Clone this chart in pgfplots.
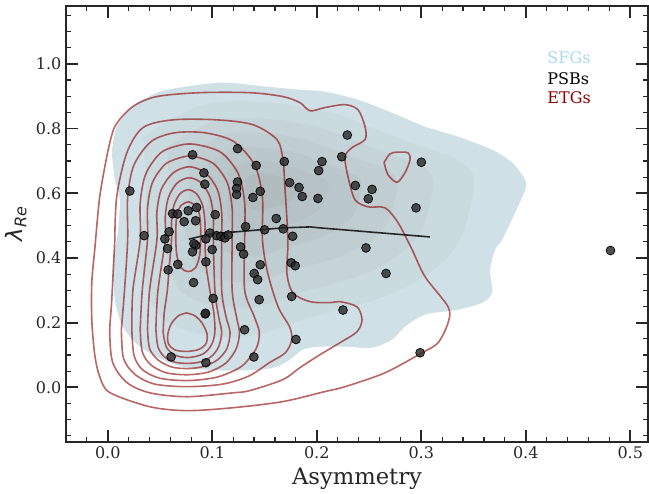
\documentclass[border=0pt]{standalone}
\usepackage{fontspec}
\setmainfont{DejaVu Serif}
\newfontfamily\dvsans{DejaVu Sans}
\usepackage{pgfplots}
\pgfplotsset{compat=1.18}
\definecolor{sfgtext}{HTML}{ADD8E6}
\definecolor{etg}{HTML}{8B0000}
\definecolor{ax}{HTML}{262626}
\definecolor{sfgA}{HTML}{CFE1E7}
\definecolor{sfgB}{HTML}{CADBE0}
\definecolor{sfgC}{HTML}{C5D4D9}
\definecolor{sfgD}{HTML}{C0CED2}
\definecolor{sfgE}{HTML}{BBC8CB}
\definecolor{sfgF}{HTML}{B6C2C5}
\definecolor{sfgG}{HTML}{B1BCBF}
\begin{document}
\begin{tikzpicture}
\begin{axis}[
  width=436.5pt, height=327pt, scale only axis,
  xmin=-0.04, xmax=0.517, ymin=-0.169, ymax=1.179,
  xtick={0,0.1,0.2,0.3,0.4,0.5},
  ytick={0,0.2,0.4,0.6,0.8,1.0},
  minor xtick={-0.02,0.02,0.04,0.06,0.08,0.12,0.14,0.16,0.18,0.22,0.24,0.26,0.28,0.32,0.34,0.36,0.38,0.42,0.44,0.46,0.48},
  minor ytick={-0.15,-0.1,-0.05,0.05,0.1,0.15,0.25,0.3,0.35,0.45,0.5,0.55,0.65,0.7,0.75,0.85,0.9,0.95,1.05,1.1,1.15},
  tick align=inside,
  major tick length=9pt, minor tick length=3.75pt,
  major tick style={ax, line width=1.3pt},
  minor tick style={ax, line width=0.9pt},
  axis line style={ax, line width=1.4pt},
  tick label style={font=\fontsize{12}{14}\selectfont, text=ax},
  /pgf/number format/.cd, fixed, fixed zerofill, precision=1, assume math mode=true,
  /pgfplots/.cd,
  xlabel={Asymmetry},
  xlabel style={font=\fontsize{17}{20}\selectfont, text=ax},
  ylabel={{\dvsans\itshape λ\raisebox{-0.35ex}{\fontsize{12}{13}\selectfont Re}}},
  ylabel style={font=\fontsize{17}{20}\selectfont, text=ax},
  clip=true,
]
% ---------------- SFG filled density levels ----------------
\addplot[draw=none, fill=sfgA, smooth, tension=0.5] coordinates {
(0.0038,0.7255) (0.0086,0.8059) (0.0239,0.8677) (0.0498,0.9141) (0.0881,0.9357) (0.1140,0.9419) (0.1523,0.9295) (0.1839,0.9202) (0.2079,0.9141) (0.2395,0.8893) (0.2720,0.8491) (0.3036,0.8059) (0.3352,0.7750) (0.3678,0.7348) (0.3870,0.6946) (0.3994,0.6420) (0.3994,0.6111) (0.3898,0.5400) (0.3774,0.4566) (0.3707,0.4257) (0.3659,0.3638) (0.3678,0.2927) (0.3582,0.2618) (0.3352,0.2402) (0.3036,0.2247) (0.2845,0.1876) (0.2720,0.1474) (0.2529,0.1227) (0.2289,0.1258) (0.2031,0.1258) (0.1868,0.1165) (0.1743,0.0856) (0.1619,0.0640) (0.1456,0.0547) (0.1169,0.0516) (0.0929,0.0547) (0.0757,0.0609) (0.0565,0.0794) (0.0307,0.1258) (0.0144,0.1876) (0.0067,0.2711) (0.0048,0.3731) (0.0067,0.4257) (0.0096,0.4782) (0.0115,0.5802) (0.0067,0.6420) (0.0038,0.7255)};
\addplot[draw=none, fill=sfgB, smooth, tension=0.6] coordinates {
(0.0341,0.7725) (0.0992,0.8789) (0.1975,0.8612) (0.2760,0.7724) (0.3443,0.6812) (0.3466,0.5544) (0.3270,0.4099) (0.2760,0.2959) (0.1935,0.2148) (0.1229,0.1539) (0.0522,0.2148) (0.0309,0.4175) (0.0364,0.5874) (0.0341,0.7725)};
\addplot[draw=none, fill=sfgC, smooth, tension=0.6] coordinates {
(0.0567,0.7428) (0.1091,0.8284) (0.1882,0.8141) (0.2514,0.7427) (0.3064,0.6692) (0.3083,0.5672) (0.2925,0.4509) (0.2514,0.3591) (0.1850,0.2938) (0.1282,0.2449) (0.0713,0.2938) (0.0542,0.4570) (0.0586,0.5937) (0.0567,0.7428)};
\addplot[draw=none, fill=sfgD, smooth, tension=0.6] coordinates {
(0.0765,0.7167) (0.1178,0.7842) (0.1801,0.7729) (0.2299,0.7167) (0.2732,0.6588) (0.2747,0.5784) (0.2623,0.4868) (0.2299,0.4144) (0.1776,0.3630) (0.1328,0.3244) (0.0880,0.3630) (0.0745,0.4916) (0.0780,0.5993) (0.0765,0.7167)};
\addplot[draw=none, fill=sfgE, smooth, tension=0.6] coordinates {
(0.0963,0.6907) (0.1265,0.7400) (0.1720,0.7318) (0.2084,0.6906) (0.2401,0.6483) (0.2411,0.5896) (0.2320,0.5226) (0.2084,0.4698) (0.1702,0.4322) (0.1374,0.4040) (0.1047,0.4322) (0.0948,0.5262) (0.0974,0.6049) (0.0963,0.6907)};
\addplot[draw=none, fill=sfgF, smooth, tension=0.6] coordinates {
(0.1146,0.6665) (0.1345,0.6989) (0.1645,0.6935) (0.1884,0.6665) (0.2093,0.6387) (0.2100,0.6000) (0.2040,0.5559) (0.1884,0.5212) (0.1633,0.4964) (0.1417,0.4779) (0.1202,0.4964) (0.1137,0.5583) (0.1154,0.6100) (0.1146,0.6665)};
\addplot[draw=none, fill=sfgG, smooth, tension=0.6] coordinates {
(0.1316,0.6442) (0.1420,0.6610) (0.1575,0.6582) (0.1700,0.6442) (0.1808,0.6297) (0.1812,0.6096) (0.1781,0.5867) (0.1700,0.5686) (0.1569,0.5558) (0.1457,0.5461) (0.1345,0.5558) (0.1311,0.5879) (0.1320,0.6148) (0.1316,0.6442)};
% ---------------- ETG contour lines ----------------
\pgfplotsset{etgline/.style={draw=etg, draw opacity=0.6, line width=1.2pt, smooth, tension=0.5, no marks}}
\addplot[etgline] coordinates {
(-0.0010,0.713) (0.0067,0.806) (0.0239,0.868) (0.0469,0.899) (0.0881,0.911) (0.1360,0.911) (0.1676,0.899) (0.1839,0.880) (0.1935,0.855) (0.2079,0.865) (0.2270,0.874) (0.2395,0.858) (0.2462,0.806) (0.2462,0.766) (0.2337,0.741) (0.2270,0.713) (0.2299,0.651) (0.2366,0.580) (0.2490,0.558) (0.2653,0.555) (0.2778,0.509) (0.2912,0.426) (0.3036,0.342) (0.3257,0.249) (0.3257,0.200) (0.3161,0.138) (0.3008,0.107) (0.2653,0.045) (0.2270,0.002) (0.2079,-0.013) (0.1676,-0.044) (0.1197,-0.063) (0.0757,-0.072) (0.0402,-0.060) (0.0019,-0.016) (-0.0077,0.033) (-0.0125,0.101) (-0.0153,0.209) (-0.0153,0.324) (-0.0125,0.426) (-0.0077,0.590) (-0.0010,0.713)};
\addplot[etgline] coordinates {
(0.2644,0.695) (0.2701,0.722) (0.2768,0.727) (0.2874,0.725) (0.2893,0.704) (0.2845,0.664) (0.2768,0.634) (0.2682,0.657) (0.2644,0.695)};
\addplot[etgline] coordinates {
(0.0067,0.456) (0.0086,0.591) (0.0182,0.725) (0.0337,0.803) (0.0623,0.827) (0.1044,0.827) (0.1389,0.812) (0.1619,0.766) (0.1676,0.704) (0.1695,0.620) (0.1724,0.456) (0.1714,0.354) (0.1772,0.292) (0.1935,0.265) (0.2126,0.262) (0.2222,0.265) (0.2385,0.249) (0.2433,0.209) (0.2385,0.172) (0.2222,0.138) (0.2031,0.101) (0.1839,0.061) (0.1676,0.024) (0.1360,-0.010) (0.1197,-0.017) (0.0757,-0.029) (0.0402,-0.017) (0.0182,0.015) (0.0048,0.076) (0.0019,0.169) (0.0038,0.271) (0.0067,0.456)};
\addplot[etgline] coordinates {
(0.013,0.18) (0.016,0.30) (0.019,0.456) (0.019,0.587) (0.025,0.687) (0.0415,0.760) (0.064,0.787) (0.093,0.787) (0.1205,0.760) (0.1406,0.687) (0.148,0.587) (0.148,0.456) (0.153,0.354) (0.163,0.249) (0.174,0.187) (0.176,0.147) (0.170,0.107) (0.155,0.077) (0.135,0.035) (0.11,0.010) (0.076,0.002) (0.045,0.010) (0.026,0.040) (0.015,0.090) (0.013,0.18)};
\addplot[etgline] coordinates {
(0.023,0.18) (0.024,0.30) (0.031,0.456) (0.031,0.570) (0.0364,0.660) (0.051,0.726) (0.071,0.750) (0.086,0.750) (0.1085,0.726) (0.125,0.660) (0.131,0.570) (0.131,0.456) (0.131,0.30) (0.140,0.22) (0.145,0.17) (0.142,0.12) (0.128,0.065) (0.105,0.032) (0.077,0.021) (0.050,0.028) (0.033,0.055) (0.025,0.10) (0.023,0.18)};
\addplot[etgline] coordinates {
(0.031,0.18) (0.033,0.30) (0.038,0.456) (0.038,0.553) (0.0427,0.633) (0.0555,0.691) (0.073,0.713) (0.084,0.713) (0.1015,0.691) (0.1143,0.633) (0.119,0.553) (0.119,0.456) (0.119,0.30) (0.123,0.22) (0.126,0.17) (0.123,0.12) (0.113,0.075) (0.097,0.048) (0.077,0.039) (0.056,0.045) (0.041,0.070) (0.033,0.110) (0.031,0.18)};
\addplot[etgline] coordinates {
(0.038,0.18) (0.040,0.30) (0.047,0.456) (0.047,0.542) (0.0512,0.612) (0.0625,0.663) (0.078,0.682) (0.0935,0.663) (0.1048,0.612) (0.109,0.542) (0.109,0.456) (0.109,0.30) (0.113,0.22) (0.117,0.17) (0.114,0.12) (0.105,0.085) (0.092,0.065) (0.077,0.058) (0.061,0.063) (0.048,0.085) (0.040,0.12) (0.038,0.18)};
\addplot[etgline] coordinates {
(0.046,0.18) (0.048,0.30) (0.055,0.456) (0.055,0.528) (0.0581,0.588) (0.0665,0.632) (0.078,0.648) (0.0895,0.632) (0.0979,0.588) (0.101,0.528) (0.101,0.456) (0.1025,0.30) (0.106,0.22) (0.109,0.17) (0.106,0.125) (0.099,0.095) (0.089,0.079) (0.077,0.074) (0.064,0.078) (0.054,0.095) (0.048,0.125) (0.046,0.18)};
\addplot[etgline] coordinates {
(0.053,0.17) (0.054,0.23) (0.057,0.30) (0.059,0.38) (0.061,0.456) (0.061,0.511) (0.0631,0.561) (0.069,0.598) (0.077,0.611) (0.085,0.598) (0.0909,0.561) (0.093,0.511) (0.093,0.456) (0.094,0.38) (0.0977,0.30) (0.1015,0.23) (0.1025,0.17) (0.099,0.13) (0.091,0.103) (0.077,0.092) (0.064,0.100) (0.056,0.125) (0.053,0.17)};
\addplot[etgline] coordinates {
(0.077,0.574) (0.084,0.562) (0.088,0.53) (0.089,0.47) (0.088,0.41) (0.084,0.37) (0.077,0.358) (0.070,0.37) (0.066,0.41) (0.065,0.47) (0.066,0.53) (0.070,0.562) (0.077,0.574)};
\addplot[etgline] coordinates {
(0.0754,0.230) (0.083,0.222) (0.090,0.200) (0.095,0.165) (0.094,0.135) (0.087,0.117) (0.0754,0.111) (0.064,0.116) (0.058,0.135) (0.0575,0.165) (0.061,0.198) (0.068,0.222) (0.0754,0.230)};
% ---------------- PSB points ----------------
\addplot[only marks, mark=*, mark size=3.3pt, mark options={fill=black!85, draw=black, fill opacity=0.8, draw opacity=0.9, line width=0.6pt}] table {
x y
0.0811 0.719
0.0920 0.663
0.0929 0.628
0.0211 0.607
0.0850 0.556
0.0769 0.546
0.0620 0.537
0.0668 0.536
0.0731 0.512
0.0840 0.515
0.1028 0.534
0.0587 0.481
0.0348 0.469
0.0546 0.459
0.0977 0.477
0.0939 0.459
0.1041 0.469
0.0843 0.439
0.0824 0.444
0.0572 0.429
0.1242 0.738
0.1420 0.686
0.1689 0.698
0.2050 0.698
0.2018 0.670
0.1242 0.635
0.1233 0.615
0.1233 0.596
0.1459 0.606
0.1389 0.587
0.1740 0.633
0.1830 0.618
0.1861 0.590
0.2011 0.584
0.1612 0.522
0.1319 0.497
0.1501 0.487
0.1679 0.490
0.1769 0.467
0.1080 0.467
0.1121 0.462
0.1152 0.471
0.1271 0.434
0.2292 0.780
0.2239 0.713
0.3001 0.696
0.2369 0.624
0.2529 0.612
0.2493 0.583
0.2950 0.555
0.2471 0.431
0.0811 0.419
0.0999 0.426
0.0670 0.380
0.0578 0.363
0.0939 0.388
0.0821 0.324
0.1009 0.275
0.0932 0.227
0.0935 0.229
0.0606 0.094
0.0939 0.076
0.1300 0.412
0.1459 0.379
0.1401 0.352
0.1434 0.333
0.1756 0.385
0.1794 0.376
0.1449 0.271
0.1760 0.281
0.1309 0.178
0.1801 0.148
0.1398 0.094
0.2663 0.352
0.2251 0.239
0.2989 0.107
0.4811 0.423
};
% ---------------- median line ----------------
\addplot[black!85, line width=1.2pt, no marks] coordinates {
(0.0776,0.458) (0.0977,0.474) (0.1676,0.493) (0.1935,0.496) (0.2031,0.493) (0.3084,0.465)};
% ---------------- legend text ----------------
\node[anchor=base west, inner sep=0pt, text=sfgtext, font=\fontsize{12}{14}\selectfont] at (axis cs:0.4205,1.000) {SFGs};
\node[anchor=base west, inner sep=0pt, text=black, font=\fontsize{12}{14}\selectfont] at (axis cs:0.4205,0.9357) {PSBs};
\node[anchor=base west, inner sep=0pt, text=etg, font=\fontsize{12}{14}\selectfont] at (axis cs:0.4205,0.879) {ETGs};
\end{axis}
\pgfresetboundingbox
\path[use as bounding box] ([xshift=-49.5pt,yshift=-38.25pt]current axis.south west) rectangle ([xshift=0.75pt,yshift=4.5pt]current axis.north east);
\end{tikzpicture}
\end{document}
